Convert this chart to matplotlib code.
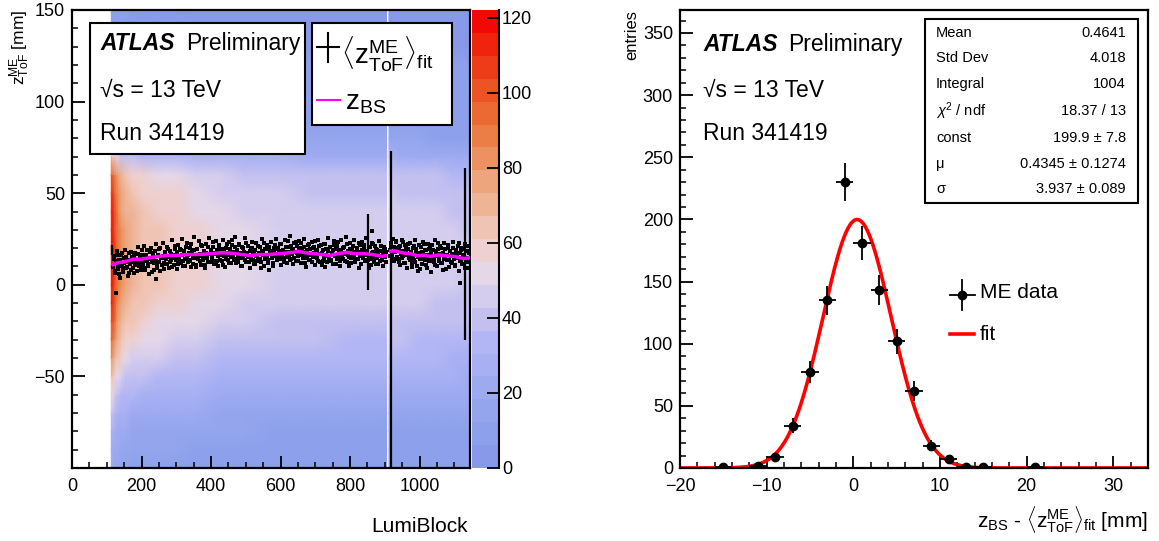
import numpy as np
import matplotlib
matplotlib.use('Agg')
import matplotlib.pyplot as plt
from matplotlib.colors import ListedColormap, BoundaryNorm
from matplotlib.cm import ScalarMappable
from matplotlib.patches import Rectangle
from matplotlib.ticker import MultipleLocator

plt.rcParams['font.family'] = ['Liberation Sans', 'DejaVu Sans']
plt.rcParams['mathtext.fontset'] = 'custom'
plt.rcParams['mathtext.rm'] = 'Liberation Sans'
plt.rcParams['mathtext.it'] = 'Liberation Sans:italic'
plt.rcParams['mathtext.bf'] = 'Liberation Sans:bold'

# ---------------- data: left panel ----------------
# 2D histogram read as z-profile x lumiblock-intensity
z_nodes = [-100, -90, -80, -70, -60, -50, -40, -30, -20, -10, 0, 10, 20,
           30, 40, 50, 60, 70, 80, 90, 100, 110, 120, 130, 140, 150]
z_profile = [8, 10, 12, 16, 21, 27, 33, 38, 42, 45, 47, 48, 48,
             47, 46, 44, 40, 25, 13, 10, 9, 8, 7, 6, 5, 4]
lb_seg1 = [113, 118, 123, 128, 134, 142, 155, 175, 205, 250, 300, 360, 430,
           500, 600, 700, 800, 905]
scale_seg1 = [2.45, 2.4, 2.2, 2.0, 1.85, 1.7, 1.58, 1.47, 1.38, 1.3, 1.25,
              1.17, 1.1, 1.04, 1.0, 0.97, 0.96, 0.95]
lb_seg2 = [912, 950, 1000, 1050, 1100, 1145]
scale_seg2 = [0.98, 0.97, 0.95, 0.93, 0.91, 0.9]

# z_BS (magenta)
bs_lb1 = [118, 130, 150, 176, 200, 230, 272, 300, 330, 368, 400, 430, 464, 490,
          512, 540, 560, 600, 636, 650, 670, 695, 720, 743, 765, 791, 815, 839,
          865, 892, 903]
bs_z1 = [11, 12, 12.5, 14, 14, 15, 16, 16, 16.5, 16.6, 17, 17.5, 17.2, 16.5,
         16, 16.5, 16.5, 17, 17.7, 18.3, 17.5, 17, 16.5, 16, 17, 17.7, 17, 17,
         16.5, 15.6, 15.8]
bs_lb2 = [917, 930, 954, 975, 993, 1012, 1031, 1055, 1079, 1100, 1127, 1144]
bs_z2 = [18.4, 18.5, 17.3, 17, 15.8, 16.2, 15.5, 16.3, 15.8, 15.5, 14.3, 14.8]

# <z_ToF^ME>_fit per lumiblock (black points)
me_start1a = 118
me_z1a = [9.5, 14.2, 7.8, 12.9, 16.1, 10.3, 5.9, 13.4, 11.0, 17.2,
          8.6, 12.1, 15.3, 9.9, 13.8, 6.7, 11.5, 18.0, 12.6, 9.1,
          15.7, 10.8, 13.2, 7.4, 16.8, 12.0, 14.9, 9.6, 19.1, 11.7,
          13.6, 8.2, 16.4, 12.8, 10.1, 17.7, 14.3, 6.9, 15.2, 11.9,
          18.6, 13.1, 9.4, 16.0, 12.4, 20.3, 14.6, 10.7, 15.9, 8.8,
          17.4, 13.9, 11.2, 19.5, 15.1, 12.2, 16.9, 9.7, 14.4, 21.0,
          13.3, 17.9, 11.6, 15.6, 19.8, 12.7, 16.3, 10.4, 18.5, 14.1,
          20.7, 15.4, 12.3, 17.1, 13.7, 22.4, 16.6, 11.1, 18.9, 14.8,
          9.8, 19.3, 15.8, 12.9, 21.6, 16.2, 13.5, 18.2, 10.9, 17.6,
          14.7, 20.9, 16.7, 12.5, 19.0, 15.0, 23.1, 13.0, 17.3, 11.3,
          18.8, 15.5, 21.3, 13.6, 16.5, 10.6, 19.6, 17.0, 14.0, 22.0,
          16.4, 12.1, 19.4, 15.3, 24.2, 17.8, 13.4, 20.5, 11.8, 18.1,
          15.2, 21.7, 14.5, 17.5, 10.2, 19.9, 16.0, 13.8, 22.6, 15.9,
          12.6, 18.4, 14.9, 20.1, 16.8, 11.4, 19.2, 15.7, 13.2, 21.4,
          17.2, 14.2, 9.3, 18.7, 16.1, 22.9, 13.9, 19.7, 15.4, 12.0,
          20.4, 16.6, 14.6, 10.5, 18.3, 21.8, 15.6, 13.3, 19.5, 17.1,
          14.3, 22.3, 16.2, 19.0, 12.4, 17.9, 20.8, 15.0, 24.0, 18.0,
          13.7, 21.1, 16.9, 19.8, 14.7, 23.5, 17.4, 12.8, 20.0, 16.3,
          22.7, 18.6, 14.4, 20.6, 11.9, 17.7, 15.8, 21.9, 13.5, 19.3,
          16.0, 12.7, 20.2, 17.3, 23.8, 15.1, 18.9, 13.1, 21.2, 16.7,
          10.8, 19.1, 14.8, 22.1, 16.4, 12.3, 18.2, 15.5, 20.7, 13.6,
          17.6, 11.5, 21.5, 15.9, 19.4, 14.1, 23.3, 16.8, 12.9, 18.5,
          15.2, 20.3, 13.0, 17.0, 22.5, 16.1, 10.0, 19.7, 14.5, 18.1,
          21.0, 15.7, 12.2, 17.8, 20.0, 14.0, 23.0, 16.5, 11.6, 19.2,
          15.3, 21.8, 13.4, 18.7, 16.2, 8.9, 20.6, 14.3, 17.4, 22.2,
          12.5, 16.9, 19.5, 14.9, 11.2, 18.3, 15.6, 21.3, 13.8, 17.1,
          15.0, 19.8, 12.7]
me_start1b = 119.5
me_z1b = [15.8, 6.2, 11.9, 18.3, 8.4, 13.7, 3.9, 16.5, 10.2, 7.1,
          14.6, 19.2, 9.3, 12.4, 4.8, 17.6, 11.1, 8.0, 15.0, 13.3,
          6.5, 17.3, 12.7, 20.4, 10.5, 14.1, 7.9, 16.2, 11.4, 21.2,
          9.0, 15.4, 18.8, 11.6, 5.7, 14.8, 20.1, 12.2, 17.1, 8.3,
          13.0, 22.1, 10.9, 15.6, 19.3, 7.6, 14.5, 23.0, 12.0, 17.9,
          11.3, 20.7, 15.1, 9.2, 18.4, 13.6, 24.3, 16.0, 10.6, 19.7,
          15.9, 8.7, 21.5, 14.0, 11.8, 19.0, 25.1, 13.2, 17.4, 10.1,
          22.8, 16.4, 12.9, 20.2, 9.5, 17.7, 14.4, 26.0, 15.3, 11.0,
          19.6, 13.9, 23.7, 16.8, 10.8, 21.1, 14.9, 18.1, 8.9, 22.5,
          16.1, 12.6, 25.4, 18.9, 14.2, 20.8, 11.5, 17.0, 23.9, 13.1,
          10.3, 21.7, 16.3, 19.5, 12.8, 24.6, 15.5, 9.6, 20.0, 17.5,
          13.5, 23.4, 18.5, 11.7, 21.9, 15.2, 26.3, 14.3, 19.1, 12.4,
          22.2, 16.9, 10.0, 20.6, 14.6, 18.0, 25.6, 12.3, 17.2, 21.3,
          15.0, 9.1, 19.8, 23.6, 13.4, 18.6, 11.2, 22.7, 16.5, 14.1,
          20.9, 12.5, 24.8, 17.6, 10.4, 19.4, 15.7, 21.6, 13.7, 8.2,
          18.2, 23.1, 14.8, 11.9, 20.3, 16.6, 25.0, 13.8, 19.9, 15.4,
          22.4, 10.7, 18.7, 14.5, 24.4, 17.3, 12.1, 20.5, 16.0, 26.5,
          14.2, 19.3, 11.4, 22.9, 17.8, 13.0, 21.0, 15.6, 24.1, 18.4,
          12.0, 20.1, 16.2, 25.2, 14.7, 9.7, 19.0, 22.3, 13.6, 17.0,
          23.5, 15.1, 20.7, 11.0, 18.8, 14.9, 24.7, 16.7, 12.6, 21.8,
          17.5, 13.1, 22.0, 9.9, 19.6, 15.8, 25.7, 14.0, 20.4, 12.8,
          18.9, 23.8, 16.1, 11.3, 21.4, 14.6, 19.2, 10.5, 24.3, 16.8,
          13.9, 20.8, 17.1, 26.1, 12.2, 18.3, 15.3, 22.6, 11.7, 19.5,
          16.4, 24.5, 13.3, 20.0, 17.9, 9.4, 21.7, 15.9, 23.2, 14.4,
          19.9, 12.9, 25.3, 17.2, 13.5, 20.9, 16.3, 10.9, 22.8, 18.0,
          14.6, 21.2, 11.6, 19.0, 16.6, 24.0, 13.2, 18.5, 10.2, 20.6,
          15.2, 17.7]
me_start2a = 914
me_z2a = [19.2, 22.8, 16.4, 13.9, 20.5, 17.8, 24.1, 15.3, 19.9, 12.6,
          21.4, 17.0, 14.5, 23.2, 18.6, 11.7, 20.1, 16.2, 22.3, 13.8,
          18.0, 9.9, 15.7, 21.0, 12.4, 19.3, 16.9, 7.8, 17.5, 14.2,
          20.7, 11.3, 16.6, 22.0, 13.5, 18.8, 9.4, 15.1, 19.6, 12.8,
          17.3, 21.9, 14.7, 10.6, 18.2, 15.9, 23.0, 13.1, 16.7, 20.2,
          11.9, 17.6, 14.0, 19.4, 8.7, 16.3, 21.5, 13.3, 18.4, 15.5,
          12.1, 20.0, 16.8, 10.3, 17.9, 14.4, 22.6, 13.0, 18.9, 11.5,
          16.0, 19.7, 9.2, 14.8, 21.2, 12.2, 17.1]
me_start2b = 915.5
me_z2b = [15.5, 21.0, 17.9, 25.0, 12.9, 19.8, 23.6, 14.1, 20.9, 10.8,
          18.2, 24.2, 15.9, 12.0, 21.8, 17.3, 9.1, 19.4, 14.8, 22.9,
          16.5, 11.2, 20.3, 13.7, 24.5, 18.1, 10.4, 15.3, 21.6, 8.5,
          17.7, 23.3, 14.3, 19.1, 11.0, 16.1, 22.4, 13.0, 20.5, 6.9,
          15.0, 18.9, 12.5, 24.7, 16.4, 10.1, 19.8, 14.6, 21.3, 11.8,
          17.0, 8.1, 22.7, 15.6, 13.4, 20.2, 9.8, 18.5, 12.3, 16.9,
          23.4, 14.0, 10.7, 19.2, 15.8, 21.1, 7.4, 17.4, 13.6, 20.0,
          11.1, 16.2, 22.1, 14.9, 18.7, 9.0]
out_lb = [128, 241, 862, 1116]
out_z = [-4.5, 3.0, 29.5, 1.0]
err_lb = [115, 851, 917, 1132]
err_z = [19, 18, -14, 17]
err_dz = [2.5, 20.7, 87, 47]

# ---------------- data: right panel ----------------
bin_centers = [-15, -11, -9, -7, -5, -3, -1, 1, 3, 5, 7, 9, 11, 13, 15, 21]
counts = [1, 2, 9, 34, 77, 135, 230, 181, 143, 102, 62, 18, 7, 1, 1, 1]
fit_const, fit_mu, fit_sigma = 199.9, 0.4345, 3.937
stat_labels = ['Mean', 'Std Dev', 'Integral', r'$\chi^{2}$ / ndf', 'const', 'μ', 'σ']
stat_values = ['0.4641', '4.018', '1004', '18.37 / 13', '199.9 ± 7.8',
               '0.4345 ± 0.1274', '3.937 ± 0.089']

# colour palette (20 contour bands up to 122)
band_colors = [(135, 153, 232), (140, 160, 235), (148, 165, 238), (158, 170, 240),
               (168, 176, 243), (178, 182, 245), (195, 192, 240), (212, 205, 238),
               (228, 215, 232), (238, 208, 208), (240, 196, 180), (238, 180, 150),
               (237, 165, 125), (236, 145, 95), (235, 125, 70), (235, 105, 50),
               (236, 85, 35), (238, 60, 25), (240, 35, 15), (242, 8, 5)]
zmax = 122.0

# ---------------- figure ----------------
W, H = 1159, 541
fig = plt.figure(figsize=(W / 100, H / 100), dpi=100)


def rect(x0, y0, x1, y1):
    return [x0 / W, 1 - y1 / H, (x1 - x0) / W, (y1 - y0) / H]


cmap = ListedColormap([tuple(c / 255 for c in col) for col in band_colors])
levels = np.linspace(0, zmax, len(band_colors) + 1)
norm = BoundaryNorm(levels, cmap.N)

SPW = 1.6

# ---- left panel ----
ax1 = fig.add_axes(rect(72, 10, 470, 468))
zn = np.array(z_nodes, float)
for lbs, sc in ((lb_seg1, scale_seg1), (lb_seg2, scale_seg2)):
    X, Y = np.meshgrid(np.array(lbs, float), zn)
    C = np.outer(np.array(z_profile, float), np.array(sc, float))
    ax1.pcolormesh(X, Y, C, shading='gouraud', cmap=cmap, norm=norm, zorder=1)

ax1.errorbar(err_lb, err_z, yerr=err_dz, fmt='none', ecolor='black', elinewidth=1.6, zorder=3)
for start, vals in ((me_start1a, me_z1a), (me_start1b, me_z1b),
                    (me_start2a, me_z2a), (me_start2b, me_z2b)):
    lbs = start + 3 * np.arange(len(vals))
    ax1.plot(lbs, vals, 's', color='black', ms=2.4, mew=0, zorder=3)
ax1.plot(out_lb, out_z, 's', color='black', ms=2.4, mew=0, zorder=3)
ax1.plot(bs_lb1, bs_z1, color='#ff00ff', lw=2.5, zorder=4)
ax1.plot(bs_lb2, bs_z2, color='#ff00ff', lw=2.5, zorder=4)

ax1.set_xlim(0, 1145)
ax1.set_ylim(-100, 150)
ax1.xaxis.set_major_locator(MultipleLocator(200))
ax1.xaxis.set_minor_locator(MultipleLocator(50))
ax1.yaxis.set_major_locator(MultipleLocator(50))
ax1.yaxis.set_minor_locator(MultipleLocator(10))
ax1.set_yticks([-50, 0, 50, 100, 150])

# ---- colour bar ----
cax = fig.add_axes(rect(472, 10, 499, 468))
sm = ScalarMappable(norm=norm, cmap=cmap)
cb = fig.colorbar(sm, cax=cax, ticks=[0, 20, 40, 60, 80, 100, 120])
cb.outline.set_visible(False)
cax.minorticks_off()
cax.tick_params(axis='y', direction='in', length=9, width=1.3, labelsize=13, pad=2,
                right=True, left=False)
cax.plot([1, 1], [0, 1], transform=cax.transAxes, color='black', lw=1.5, clip_on=False)

# ---- right panel ----
ax2 = fig.add_axes(rect(680, 10, 1148, 468))
xf = np.linspace(-20, 34, 600)
yf = fit_const * np.exp(-0.5 * ((xf - fit_mu) / fit_sigma) ** 2)
ax2.plot(xf, yf, color='#ff0000', lw=2.6, zorder=2)
cts = np.array(counts, float)
ax2.errorbar(bin_centers, cts, yerr=np.sqrt(cts), xerr=1.0, fmt='o', color='black',
             ms=6, elinewidth=1.3, capsize=0, zorder=3)
ax2.set_xlim(-20, 34)
ax2.set_ylim(0, 368.5)
ax2.xaxis.set_major_locator(MultipleLocator(10))
ax2.xaxis.set_minor_locator(MultipleLocator(2))
ax2.yaxis.set_major_locator(MultipleLocator(50))
ax2.yaxis.set_minor_locator(MultipleLocator(10))

for ax in (ax1, ax2):
    for s in ax.spines.values():
        s.set_linewidth(SPW)
    ax.tick_params(which='both', direction='in', top=False, right=False, labelsize=13)
    ax.tick_params(which='major', length=9, width=1.3, pad=5)
    ax.tick_params(which='minor', length=4.5, width=1.1)
    ax.tick_params(axis='x', which='major', pad=7)

# ---- overlay for boxes / texts (pixel coordinates) ----
ov = fig.add_axes([0, 0, 1, 1], zorder=10)
ov.set_xlim(0, W)
ov.set_ylim(H, 0)
ov.axis('off')

TXT = 16.5
# left ATLAS box
ov.add_patch(Rectangle((90, 22.5), 215, 131.5, fc='white', ec='black', lw=1.5))
ov.text(100, 50, 'ATLAS', fontsize=TXT, fontweight='bold', fontstyle='italic', va='baseline')
ov.text(186, 50, 'Preliminary', fontsize=TXT, va='baseline')
ov.text(100, 97, '√s = 13 TeV', fontsize=TXT, va='baseline')
ov.text(100, 140, 'Run 341419', fontsize=TXT, va='baseline')

# left legend box
ov.add_patch(Rectangle((311.5, 22.5), 140, 102.5, fc='white', ec='black', lw=1.5))
ov.plot([317, 339], [47, 47], color='black', lw=1.5)
ov.plot([328, 328], [33, 62], color='black', lw=1.5)
ov.text(341, 65, r'$\langle\mathrm{z}^{\mathrm{ME}}_{\mathrm{ToF}}\rangle_{\mathrm{fit}}$',
        fontsize=20, va='baseline')
ov.plot([317, 340], [100, 100], color='#ff00ff', lw=1.5)
ov.text(345, 110, r'$\mathrm{z}_{\mathrm{BS}}$', fontsize=20, va='baseline')

# left axis labels
ov.text(468, 532, 'LumiBlock', fontsize=15, ha='right', va='baseline')
ov.text(20, 10, r'$\mathrm{z}^{\mathrm{ME}}_{\mathrm{ToF}}$ [mm]', fontsize=12.5,
        rotation=90, ha='center', va='top')

# right ATLAS text
ov.text(703, 51, 'ATLAS', fontsize=TXT, fontweight='bold', fontstyle='italic', va='baseline')
ov.text(788, 51, 'Preliminary', fontsize=TXT, va='baseline')
ov.text(703, 97, '√s = 13 TeV', fontsize=TXT, va='baseline')
ov.text(703, 140, 'Run 341419', fontsize=TXT, va='baseline')

# stats box
ov.add_patch(Rectangle((925, 19), 213, 184, fc='white', ec='black', lw=1.5))
rows_y = [33, 58, 84, 111, 138, 164, 189]
for lab, val, yy in zip(stat_labels, stat_values, rows_y):
    ov.text(936, yy, lab, fontsize=10.5, va='center', ha='left')
    ov.text(1126, yy, val, fontsize=10.5, va='center', ha='right')

# right legend
ov.plot([950, 975], [295, 295], color='black', lw=1.3)
ov.plot([962, 962], [280, 310], color='black', lw=1.3)
ov.plot([962], [295], 'o', color='black', ms=6)
ov.text(980, 292, 'ME data', fontsize=15, va='center')
ov.plot([950, 974], [334, 334], color='#ff0000', lw=2.6)
ov.text(980, 334, 'fit', fontsize=15, va='center')

# right axis labels
ov.text(1148, 527, r'$\mathrm{z}_{\mathrm{BS}}$ - $\langle\mathrm{z}^{\mathrm{ME}}_{\mathrm{ToF}}\rangle_{\mathrm{fit}}$ [mm]',
        fontsize=15, ha='right', va='baseline')
ov.text(632, 10, 'entries', fontsize=12, rotation=90, ha='center', va='top')

fig.savefig('out.png', dpi=100)
